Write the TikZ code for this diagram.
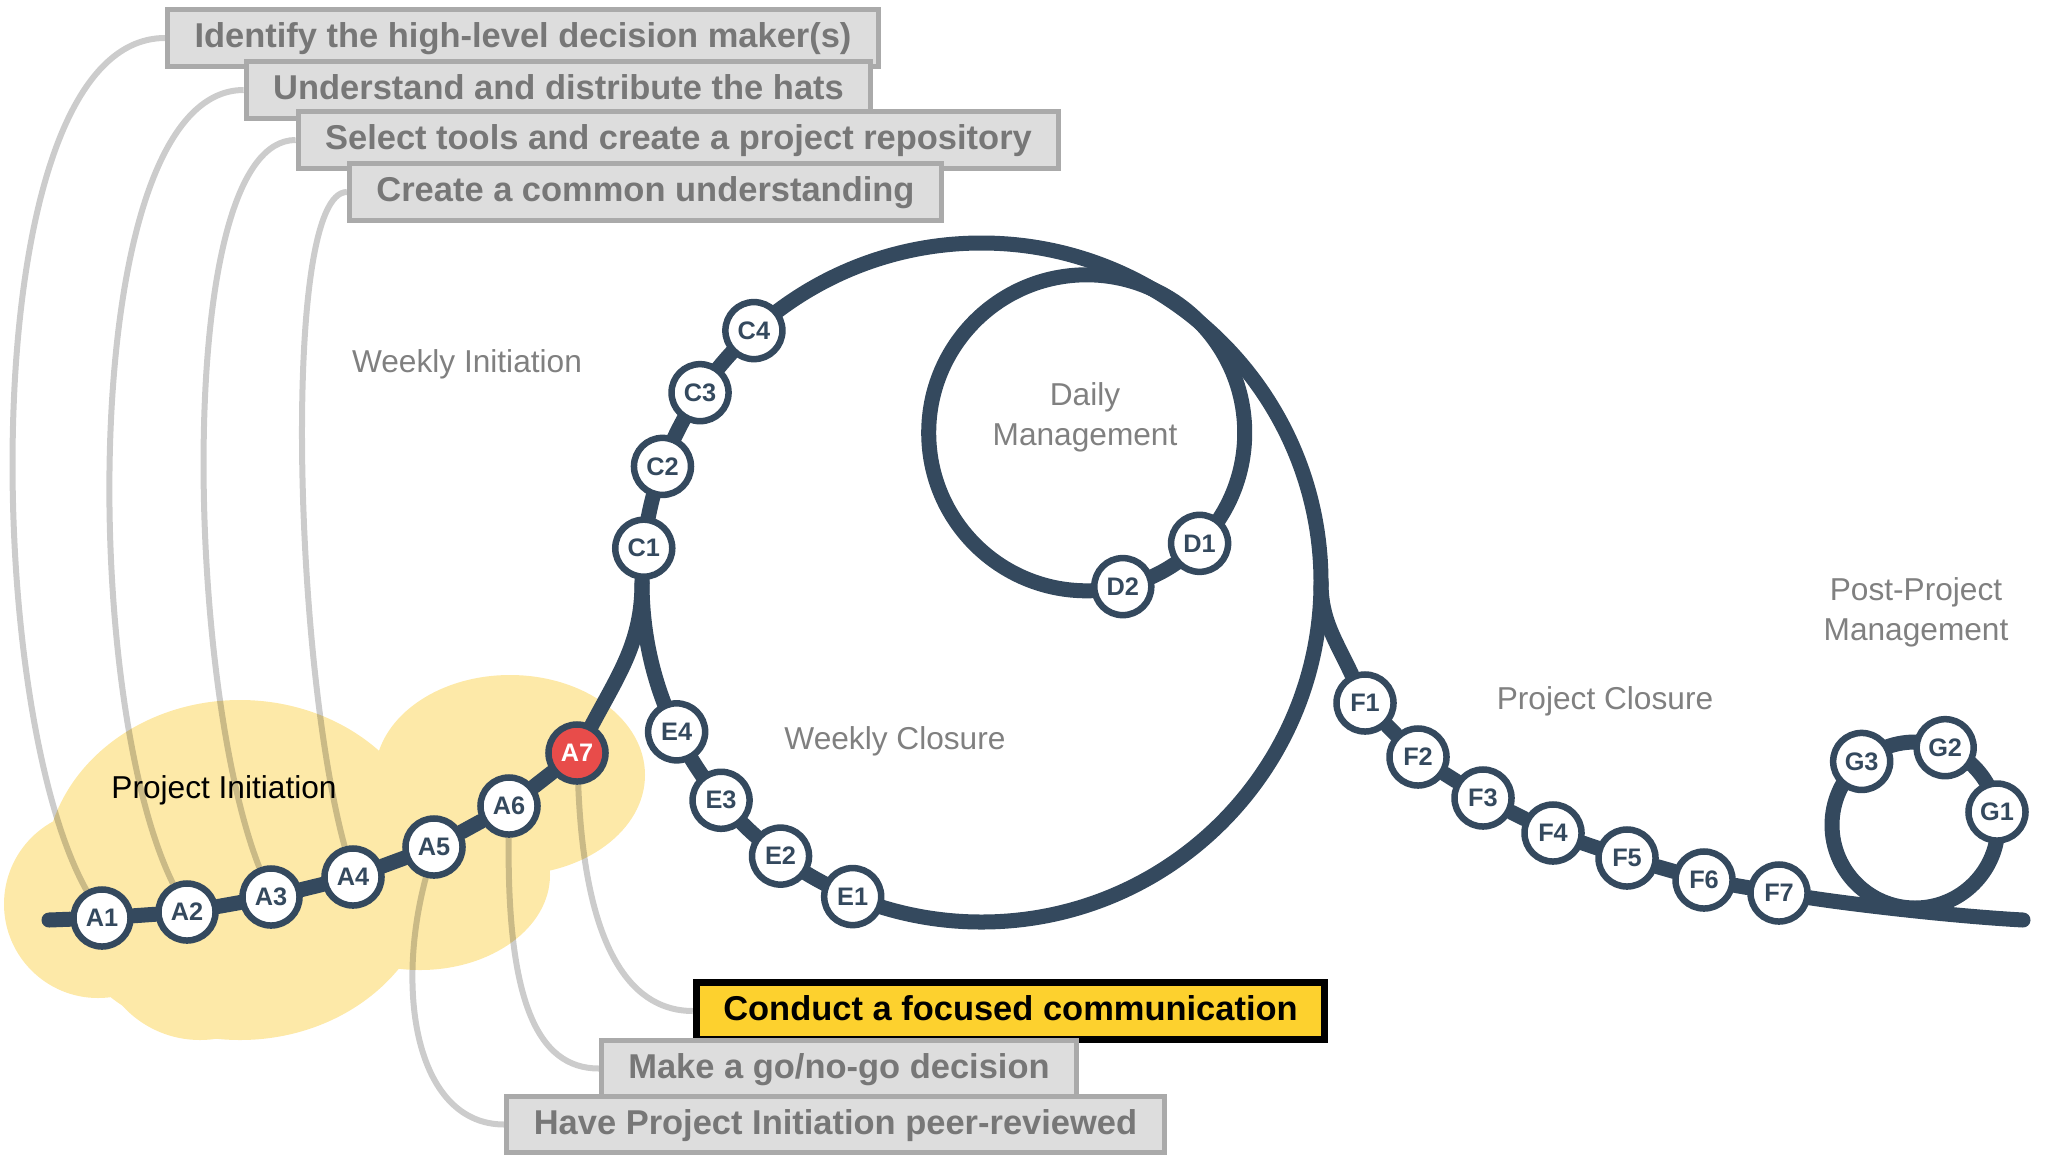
\documentclass[tikz,border=0pt]{standalone}
\usepackage{fontspec}
\setmainfont{Liberation Sans}
\usepackage{tikz}
\usetikzlibrary{backgrounds}
\definecolor{navy}{HTML}{34495E}
\definecolor{alert}{HTML}{E84C4A}
\definecolor{cloudy}{HTML}{FDE9A8}
\definecolor{boxfill}{HTML}{DDDDDD}
\definecolor{boxedge}{HTML}{AAAAAA}
\definecolor{boxtext}{HTML}{777777}
\definecolor{hilite}{HTML}{FDD12E}
\definecolor{phasegray}{HTML}{808080}

\begin{document}
\begin{tikzpicture}[x=0.01cm, y=0.01cm,
    track/.style={draw=navy, line width=0.15cm, line cap=round},
    stn/.style={circle, draw=navy, fill=white, line width=0.065cm, minimum size=0.57cm, inner sep=0pt,
        text=navy, font=\bfseries\fontsize{7.2}{8}\selectfont},
    hot/.style={stn, fill=alert, text=white},
    task/.style={draw=boxedge, fill=boxfill, line width=0.05cm, minimum height=0.51cm, inner xsep=0.27cm,
        text height=7.5pt, text depth=2pt, text=boxtext, font=\bfseries\fontsize{9.8}{11}\selectfont},
    taskhot/.style={task, draw=black, fill=hilite, text=black, line width=0.07cm, minimum height=0.55cm},
    lead/.style={draw=black, draw opacity=0.2, line width=0.06cm},
    phase/.style={text=phasegray, align=center, font=\fontsize{9}{11.3}\selectfont}]

    \useasboundingbox (0,0) rectangle (2055,1156);

    % loop centres and track ends
    \coordinate (wk) at (981.5,573.5);
    \coordinate (dy) at (1086.7,723.2);
    \coordinate (pp) at (1915,331);
    \coordinate (wkL) at (642,573.5);
    \coordinate (wkR) at (1321,573.5);
    \coordinate (trackin) at (49,236);
    \coordinate (trackout) at (2023,236);

    % Project Initiation
    \node[stn] (a1) at (102,238) {A1};
    \node[stn] (a2) at (187,244) {A2};
    \node[stn] (a3) at (271,259) {A3};
    \node[stn] (a4) at (353,279) {A4};
    \node[stn] (a5) at (434,309) {A5};
    \node[stn] (a6) at (509,350) {A6};
    \node[hot] (a7) at (577,403) {A7};

    % Weekly loop
    \node[stn] (c1) at ([shift={(wk)}]174.2:339.5) {C1};
    \node[stn] (c2) at ([shift={(wk)}]160.0:339.5) {C2};
    \node[stn] (c3) at ([shift={(wk)}]146.0:339.5) {C3};
    \node[stn] (c4) at ([shift={(wk)}]132.1:339.5) {C4};
    \node[stn] (e4) at ([shift={(wk)}]206.1:339.5) {E4};
    \node[stn] (e3) at ([shift={(wk)}]219.9:339.5) {E3};
    \node[stn] (e2) at ([shift={(wk)}]233.7:339.5) {E2};
    \node[stn] (e1) at ([shift={(wk)}]247.7:339.5) {E1};

    % Daily loop
    \node[stn] (d1) at ([shift={(dy)}]-44.4:158) {D1};
    \node[stn] (d2) at ([shift={(dy)}]-76.8:158) {D2};

    % Project Closure
    \node[stn] (f1) at (1365,453) {F1};
    \node[stn] (f2) at (1418,399) {F2};
    \node[stn] (f3) at (1483,358) {F3};
    \node[stn] (f4) at (1553,323) {F4};
    \node[stn] (f5) at (1627,298) {F5};
    \node[stn] (f6) at (1704,276) {F6};
    \node[stn] (f7) at (1779,263) {F7};

    % Post-Project loop
    \node[stn] (g1) at ([shift={(pp)}]9:83) {G1};
    \node[stn] (g2) at ([shift={(pp)}]68.7:83) {G2};
    \node[stn] (g3) at ([shift={(pp)}]130:83) {G3};

    % phase labels
    \node[phase] (lblwi) at (467,792) {Weekly Initiation};
    \node[phase] (lbldm) at (1085,739) {Daily\\Management};
    \node[phase] (lblwc) at (895,415) {Weekly Closure};
    \node[phase] (lblpc) at (1605,455) {Project Closure};
    \node[phase] (lblpp) at (1916,544) {Post-Project\\Management};
    \node[phase, text=black] (lblpi) at (224,366) {Project Initiation};

    % task boxes
    \node[task] (b1) at (523,1118) {Identify the high-level decision maker(s)};
    \node[task] (b2) at (558.5,1066) {Understand and distribute the hats};
    \node[task] (b3) at (678.5,1016) {Select tools and create a project repository};
    \node[task] (b4) at (645.5,964) {Create a common understanding};
    \node[taskhot] (b5) at (1010.5,145) {Conduct a focused communication};
    \node[task] (b6) at (839,87.5) {Make a go/no-go decision};
    \node[task] (b7) at (835.5,31.5) {Have Project Initiation peer-reviewed};

    \begin{scope}[on background layer]
        % cloud
        \fill[cloudy] (98,252) circle[radius=94]
            (240,286) ellipse[x radius=195, y radius=170]
            (510,381) ellipse[x radius=135, y radius=100]
            (200,221) circle[radius=105]
            (420,281) ellipse[x radius=130, y radius=95];

        % leader lines
        \draw[lead] (b1.west) .. controls +(-191,0) and +(-122,218) .. (a1);
        \draw[lead] (b2.west) .. controls +(-165,0) and +(-108,219) .. (a2);
        \draw[lead] (b3.west) .. controls +(-122,0) and +(-86,218) .. (a3);
        \draw[lead] (b4.west) .. controls +(-65,0) and +(-60,220) .. (a4);
        \draw[lead] (a7) .. controls +(8,-207) and +(-56,0) .. (b5.west);
        \draw[lead] (a6) .. controls +(-2,-194) and +(-62,0) .. (b6.west);
        \draw[lead] (a5) .. controls +(-40,-150) and +(-86,0) .. (b7.west);

        % track
        \draw[track] (trackin) -- (a1) -- (a2) -- (a3) -- (a4) -- (a5) -- (a6) -- (a7)
            to[out=62,in=-90] (wkL);
        \draw[track] (wk) circle[radius=339.5];
        \draw[track] (dy) circle[radius=158];
        \draw[track] (wkR) to[out=-90,in=115] (f1) -- (f2) -- (f3) -- (f4) -- (f5) -- (f6) -- (f7)
            .. controls (1850,252) and (1950,240) .. (trackout);
        \draw[track] (pp) circle[radius=83];
    \end{scope}

\end{tikzpicture}
\end{document}
